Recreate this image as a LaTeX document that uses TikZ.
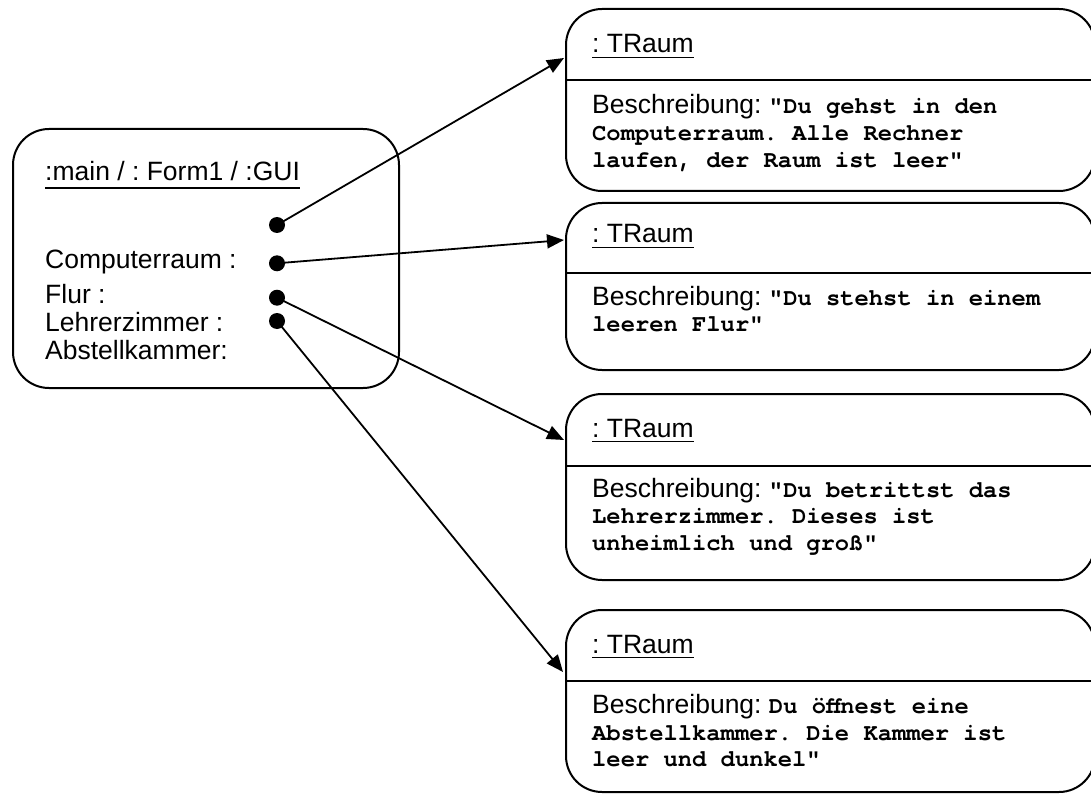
\documentclass[tikz,border=0pt]{standalone}
\usepackage{fontspec}
\setmainfont{Liberation Sans}
\newfontfamily\monofam{TeX Gyre Cursor}
\usetikzlibrary{arrows.meta,calc}
\frenchspacing
\tikzset{
  objbox/.style={draw, line width=2pt, rounded corners=36pt, anchor=north west, inner sep=0pt},
  txt/.style={anchor=base west, inner sep=0pt, font=\fontsize{26.5}{26.5}\selectfont},
  mono/.style={anchor=base west, inner sep=0pt, font=\monofam\bfseries\fontsize{23.8}{26}\selectfont},
  dotnode/.style={circle, fill=black, inner sep=0pt, minimum size=16pt},
  arr/.style={line width=1.8pt, -{Triangle[length=17pt,width=14pt]}},
  uline/.style={line width=1.4pt},
  divider/.style={line width=2pt}
}
\newcommand{\mtx}[1]{{\monofam\bfseries\fontsize{23.8}{26}\selectfont #1}}
\begin{document}
\frenchspacing
\begin{tikzpicture}[x=1pt,y=-1pt]
\useasboundingbox (0,0) rectangle (1091,794);
\clip (0,0) rectangle (1091,794);
% left object
\node[objbox, minimum width=386pt, minimum height=259pt] (gui) at (12,128) {};
\node[txt] (guit) at (45,181) {:main / : Form1 / :GUI};
\draw[uline] ([yshift=-7pt]guit.base west) -- ([yshift=-7pt]guit.base east);
\node[txt] (a1) at (45,269) {Computerraum :};
\node[txt] (a2) at (45,303.5) {Flur :};
\node[txt] (a3) at (45,331) {Lehrerzimmer :};
\node[txt] (a4) at (45,359.5) {Abstellkammer:};
\node[dotnode] (d0) at (277,225) {};
\node[dotnode] (d1) at (277,263.3) {};
\node[dotnode] (d2) at (277,297.7) {};
\node[dotnode] (d3) at (277,321) {};
% right objects
\node[objbox, minimum width=529pt, minimum height=182pt] (b1) at (565,8) {};
\node[objbox, minimum width=529pt, minimum height=167pt] (b2) at (565,202) {};
\node[objbox, minimum width=529pt, minimum height=186pt] (b3) at (565,393) {};
\node[objbox, minimum width=529pt, minimum height=182pt] (b4) at (565,609) {};
% dividers
\draw[divider] (b1.west |- 0,80) -- (b1.east |- 0,80);
\draw[divider] (b2.west |- 0,273) -- (b2.east |- 0,273);
\draw[divider] (b3.west |- 0,466) -- (b3.east |- 0,466);
\draw[divider] (b4.west |- 0,681) -- (b4.east |- 0,681);
% titles
\node[txt] (t1) at (592,53) {: TRaum};
\node[txt] (t2) at (592,243) {: TRaum};
\node[txt] (t3) at (592,437) {: TRaum};
\node[txt] (t4) at (592,653) {: TRaum};
\foreach \t in {t1,t2,t3,t4}
  \draw[uline] ([yshift=-4.5pt]\t.base west) -- ([yshift=-4.5pt]\t.base east);
% descriptions
\node[txt] (l11) at (592,114) {Beschreibung: \mtx{"Du gehst in den}};
\node[mono] (l12) at (592,141) {Computerraum. Alle Rechner};
\node[mono] (l13) at (592,167.5) {laufen, der Raum ist leer"};
\node[txt] (l21) at (592,305) {Beschreibung: \mtx{"Du stehst in einem}};
\node[mono] (l22) at (592,331.7) {leeren Flur"};
\node[txt] (l31) at (592,497) {Beschreibung: \mtx{"Du betrittst das}};
\node[mono] (l32) at (592,523.7) {Lehrerzimmer. Dieses ist};
\node[mono] (l33) at (592,550.4) {unheimlich und groß"};
\node[txt] (l41) at (592,713.3) {Beschreibung: \mtx{Du öffnest eine}};
\node[mono] (l42) at (592,740) {Abstellkammer. Die Kammer ist};
\node[mono] (l43) at (592,766.7) {leer und dunkel"};
% arrow ends on boxes
\coordinate (e1) at ($(b1.north west)+(-1,50)$);
\coordinate (e2) at ($(b2.north west)+(-1,38)$);
\coordinate (e3) at ($(b3.north west)+(-1,47)$);
\coordinate (e4) at ($(b4.north west)+(-2,63)$);
\draw[arr] (d0.center) -- (e1);
\draw[arr] (d1.center) -- (e2);
\draw[arr] (d2.center) -- (e3);
\draw[arr] (d3.center) -- (e4);
\end{tikzpicture}
\end{document}
